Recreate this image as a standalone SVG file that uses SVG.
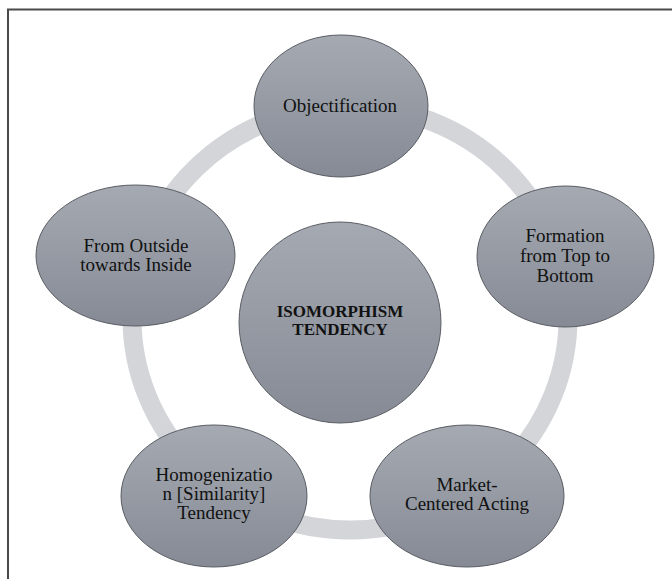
<svg xmlns="http://www.w3.org/2000/svg" width="672" height="579" viewBox="0 0 672 579">
<style>
.node{fill:url(#g);stroke:#5a5d63;stroke-width:1}
.t{font-family:"Liberation Serif","Times New Roman",serif;font-size:19px;fill:#111;text-anchor:middle}
.b{font-family:"Liberation Serif","Times New Roman",serif;font-size:17px;font-weight:bold;fill:#111;text-anchor:middle}
</style>
<defs>
<linearGradient id="g" x1="0" y1="0" x2="0" y2="1">
<stop offset="0" stop-color="#a5aab2"/>
<stop offset="1" stop-color="#858a95"/>
</linearGradient>
</defs>
<rect width="672" height="579" fill="#fff"/>
<path d="M8 579 V9.5 H672" fill="none" stroke="#4a4a4a" stroke-width="2"/>
<g id="connectors">
<ellipse cx="350" cy="318" rx="218" ry="212" fill="none" stroke="#d3d5d9" stroke-width="19"/>
</g>
<g id="center">
<ellipse class="node" cx="340" cy="322.5" rx="101" ry="100.5"/>
<text class="b" x="340" y="317">ISOMORPHISM</text>
<text class="b" x="340" y="335">TENDENCY</text>
</g>
<g id="objectification">
<ellipse class="node" cx="341" cy="106" rx="87" ry="71"/>
<text class="t" x="340" y="112">Objectification</text>
</g>
<g id="formation">
<ellipse class="node" cx="565.5" cy="256.5" rx="88.5" ry="70.5"/>
<text class="t" x="565" y="242">Formation</text>
<text class="t" x="565" y="262">from Top to</text>
<text class="t" x="565" y="281.5">Bottom</text>
</g>
<g id="market">
<ellipse class="node" cx="467" cy="496" rx="97" ry="71"/>
<text class="t" x="467" y="490.5">Market-</text>
<text class="t" x="467" y="510">Centered Acting</text>
</g>
<g id="homogenization">
<ellipse class="node" cx="214" cy="496" rx="93" ry="71"/>
<text class="t" x="214" y="480.5">Homogenizatio</text>
<text class="t" x="214" y="500">n [Similarity]</text>
<text class="t" x="214" y="519">Tendency</text>
</g>
<g id="outside">
<ellipse class="node" cx="135.5" cy="255.5" rx="99.5" ry="70.5"/>
<text class="t" x="136" y="251.5">From Outside</text>
<text class="t" x="136" y="271">towards Inside</text>
</g>
</svg>
